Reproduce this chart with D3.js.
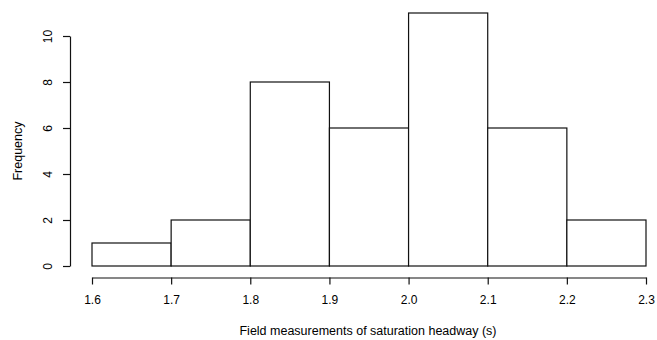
<!DOCTYPE html>
<html><head><meta charset="utf-8">
<script src="https://cdn.jsdelivr.net/npm/d3@7"></script>
<style>body{margin:0;background:#fff;} text{font-family:"Liberation Sans",Arial,sans-serif;}</style>
</head><body>
<svg id="c" width="657" height="340"></svg>
<script>
const binEdges = [1.6,1.7,1.8,1.9,2.0,2.1,2.2,2.3];
const counts = [1,2,8,6,11,6,2];
const xTicks = ["1.6","1.7","1.8","1.9","2.0","2.1","2.2","2.3"];
const yTicks = [0,2,4,6,8,10];

const svg = d3.select("#c");
const x = d3.scaleLinear().domain([1.6,2.3]).range([92,646]);
const y = d3.scaleLinear().domain([0,10]).range([266,36]);

svg.append("g").selectAll("rect").data(counts).join("rect")
  .attr("x",(d,i)=>x(binEdges[i])).attr("width",(d,i)=>x(binEdges[i+1])-x(binEdges[i]))
  .attr("y",d=>y(d)).attr("height",d=>y(0)-y(d))
  .attr("fill","#fff").attr("stroke","#111").attr("stroke-width",1.2);

const xa = svg.append("g").attr("transform","translate(0,277.5)")
  .call(d3.axisBottom(x).tickValues(binEdges).tickFormat((d,i)=>xTicks[i]).tickSize(7).tickPadding(11).tickSizeOuter(0));
const ya = svg.append("g").attr("transform","translate(70,0)")
  .call(d3.axisLeft(y).tickValues(yTicks).tickSize(7).tickPadding(5).tickSizeOuter(0));
[xa,ya].forEach(a=>{a.select(".domain").attr("stroke","#111").attr("stroke-width",1.2);
  a.selectAll(".tick line").attr("stroke","#111").attr("stroke-width",1.2);
  a.selectAll("text").attr("font-size",12).attr("fill","#000").attr("font-family","Liberation Sans, Arial, sans-serif");});
ya.selectAll(".tick text")
  .attr("x",0).attr("y",0).attr("dy",0).attr("text-anchor","middle")
  .attr("transform","translate(-18,0) rotate(-90)");

svg.append("text").attr("x",368).attr("y",335).attr("text-anchor","middle").attr("font-size",12.5).text("Field measurements of saturation headway (s)");
svg.append("text").attr("transform","translate(22,151) rotate(-90)").attr("text-anchor","middle").attr("font-size",12.5).text("Frequency");
</script>
</body></html>
